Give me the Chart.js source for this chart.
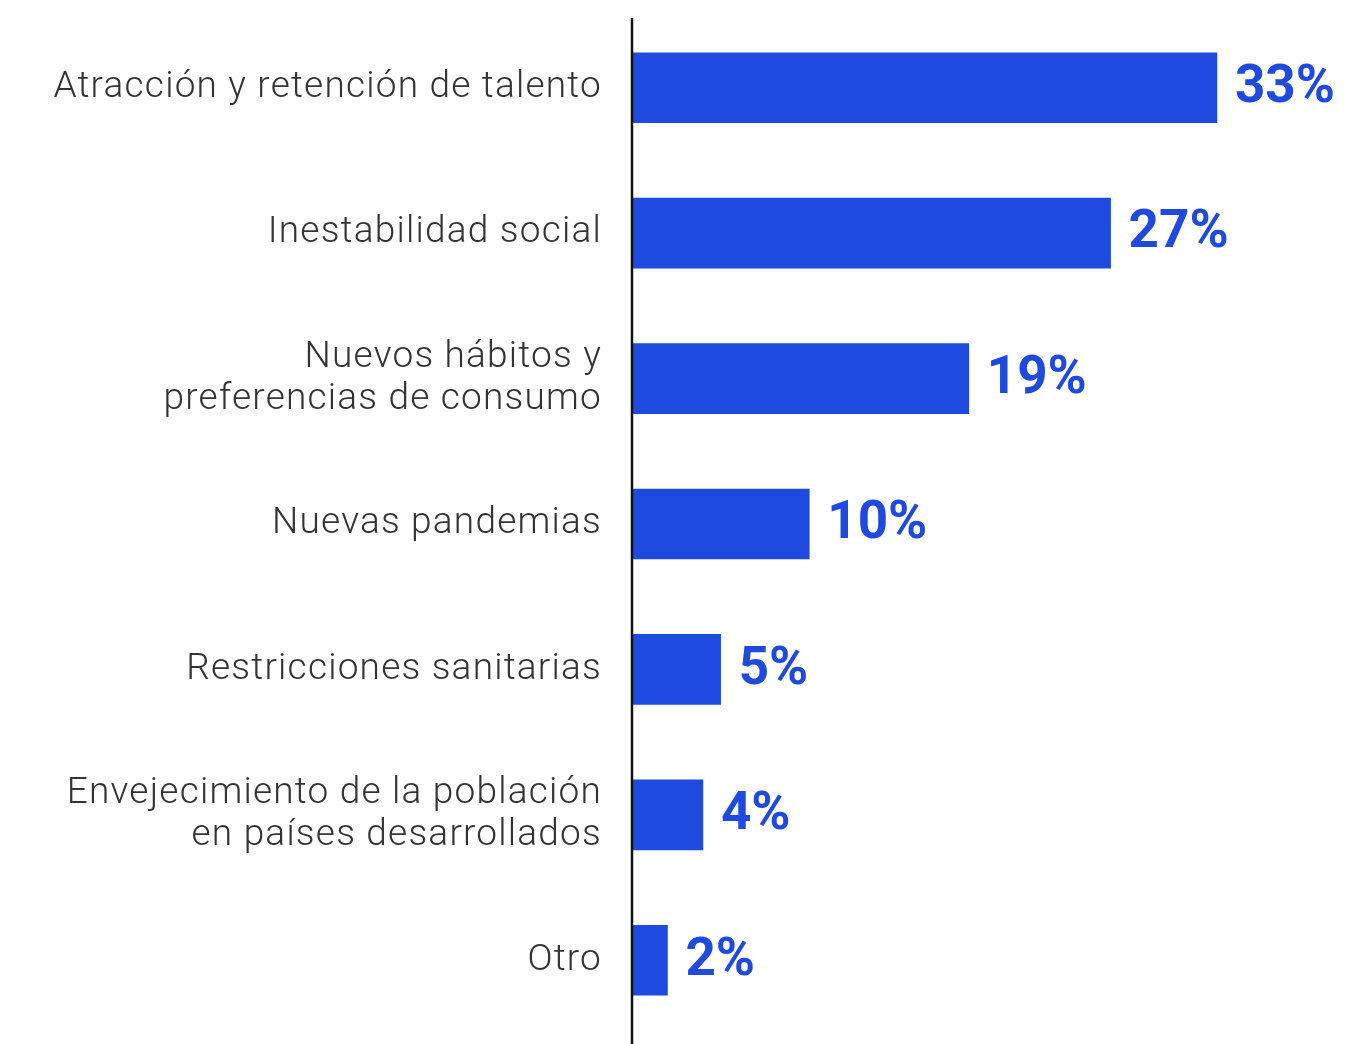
<!DOCTYPE html>
<html>
<head>
<meta charset="utf-8">
<script src="https://cdn.jsdelivr.net/npm/chart.js@4/dist/chart.umd.min.js"></script>
<style>
  html, body { margin: 0; padding: 0; background: #fff; }
  #wrap { width: 1367px; height: 1044px; }
</style>
</head>
<body>
<div id="wrap"><canvas id="chart"></canvas></div>
<script>
// datos
const categorias = [
  'Atracción y retención de talento',
  'Inestabilidad social',
  ['Nuevos hábitos y', 'preferencias de consumo'],
  'Nuevas pandemias',
  'Restricciones sanitarias',
  ['Envejecimiento de la población', 'en países desarrollados'],
  'Otro'
];
const valores = [33, 27, 19, 10, 5, 4, 2];

const AZUL = '#1f4ae0';

// etiquetas de valor a la derecha de cada barra
const valueLabels = {
  id: 'valueLabels',
  afterDatasetsDraw(chart) {
    const ctx = chart.ctx;
    const meta = chart.getDatasetMeta(0);
    ctx.save();
    ctx.letterSpacing = '0px';
    ctx.fillStyle = AZUL;
    ctx.font = 'bold 53px Roboto, "Liberation Sans", sans-serif';
    ctx.textAlign = 'left';
    ctx.textBaseline = 'middle';
    meta.data.forEach((bar, i) => {
      ctx.fillText(valores[i] + '%', bar.x + 18, bar.y + 1);
    });
    ctx.restore();
  }
};

// línea vertical del eje + espaciado de letras en las categorías
const axisLine = {
  id: 'axisLine',
  beforeDraw(chart) {
    chart.ctx.letterSpacing = '1.2px';
  },
  afterDraw(chart) {
    const ctx = chart.ctx;
    ctx.letterSpacing = '0px';
    const x = chart.chartArea.left;
    ctx.save();
    ctx.strokeStyle = '#111';
    ctx.lineWidth = 2.5;
    ctx.beginPath();
    ctx.moveTo(x, 18);
    ctx.lineTo(x, chart.height);
    ctx.stroke();
    ctx.restore();
  }
};

new Chart(document.getElementById('chart'), {
  type: 'bar',
  data: {
    labels: categorias,
    datasets: [{
      data: valores,
      backgroundColor: AZUL,
      barThickness: 70
    }]
  },
  options: {
    indexAxis: 'y',
    responsive: true,
    maintainAspectRatio: false,
    animation: false,
    layout: { padding: { top: 15, bottom: 11, left: 0, right: 26 } },
    plugins: {
      legend: { display: false },
      tooltip: { enabled: false }
    },
    scales: {
      x: {
        min: 0,
        max: 40,
        display: false
      },
      y: {
        grid: { display: false, drawTicks: false },
        border: { display: false },
        afterFit: scale => {
          scale.width = 632;
          scale.paddingTop = 0;
          scale.paddingBottom = 0;
        },
        ticks: {
          color: '#333',
          padding: 30,
          font: { family: 'Roboto', weight: 300, size: 37, lineHeight: 1.14 }
        }
      }
    }
  },
  plugins: [valueLabels, axisLine]
});
</script>
</body>
</html>
